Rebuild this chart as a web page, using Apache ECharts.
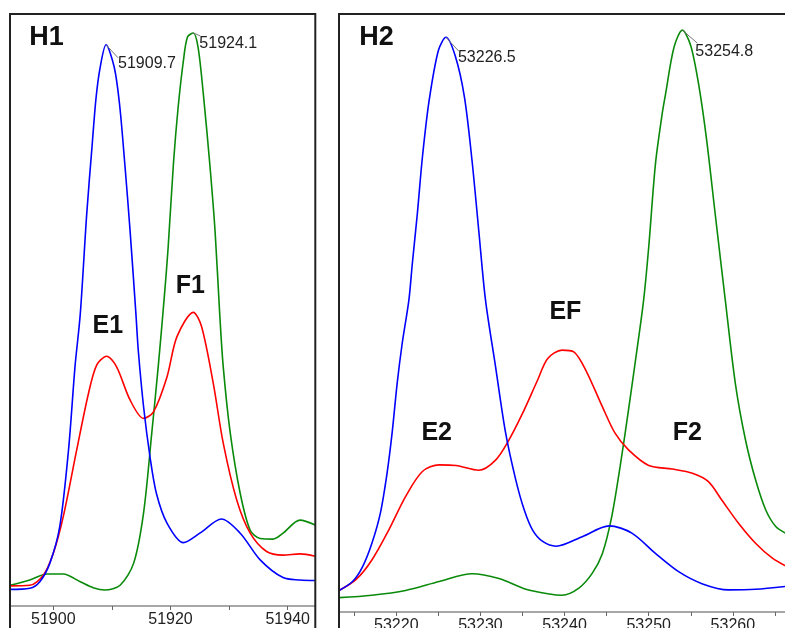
<!DOCTYPE html>
<html><head><meta charset="utf-8">
<script src="https://cdn.jsdelivr.net/npm/echarts@6/dist/echarts.min.js"></script>
<style>html,body{margin:0;padding:0;background:#fff}#c{width:785px;height:628px}</style>
</head><body><div id="c"></div>
<script>
// ---- Panel H1 (x: mass, y: relative intensity %) ----
const h1Blue = [[51892.6,2.8],[51896.0,3.0],[51897.7,4.1],[51899.4,7.2],[51901.1,13.4],[51902.6,26.4],[51903.7,40.4],[51904.6,49.3],[51905.7,66.2],[51906.6,77.5],[51907.3,85.9],[51908.0,91.0],[51909.0,94.8],[51910.4,91.0],[51911.3,84.8],[51912.2,74.7],[51913.1,63.4],[51914.1,49.3],[51914.5,43.2],[51915.4,33.7],[51916.5,25.2],[51917.6,19.0],[51919.4,14.0],[51922.2,10.7],[51925.0,12.3],[51928.7,14.7],[51931.9,12.3],[51935.3,7.8],[51939.2,4.8],[51942.1,4.4],[51944.7,4.3]];
const h1Red = [[51892.6,3.4],[51896.0,3.5],[51898.3,5.2],[51900.0,8.9],[51901.7,15.1],[51904.0,26.4],[51906.0,35.9],[51907.4,40.7],[51909.1,42.2],[51910.8,40.4],[51913.1,34.8],[51915.4,31.7],[51917.1,32.8],[51919.4,38.7],[51921.1,45.5],[51923.9,49.6],[51925.3,47.2],[51927.3,37.6],[51929.0,27.5],[51931.3,17.9],[51933.6,12.3],[51936.4,9.2],[51939.2,8.6],[51942.1,8.8],[51944.7,8.4]];
const h1Green = [[51892.6,3.5],[51896.0,4.4],[51898.9,5.4],[51901.7,5.4],[51904.6,4.1],[51906.8,3.1],[51908.8,2.7],[51911.4,3.5],[51913.7,7.2],[51915.4,15.7],[51916.8,29.2],[51917.9,40.4],[51918.9,51.7],[51919.6,60.6],[51920.5,74.7],[51921.3,84.2],[51922.2,92.1],[51922.9,96.1],[51923.9,96.8],[51924.7,94.4],[51925.6,86.5],[51926.7,74.7],[51927.6,63.4],[51928.4,49.3],[51929.0,40.4],[51930.2,29.2],[51931.9,19.0],[51933.6,12.8],[51935.3,11.4],[51937.5,11.3],[51939.2,12.3],[51942.1,14.5],[51944.7,13.7]];
const h1PeakLabels = ['51909.7', '51924.1'];
const h1Annotations = [['E1', 51909.3, 47.3], ['F1', 51923.4, 54.1]];

// ---- Panel H2 ----
const h2Blue = [[53213.2,3.6],[53214.8,5.1],[53216.0,7.6],[53217.1,11.5],[53218.1,16.5],[53218.9,23.2],[53219.5,29.9],[53220.1,38.2],[53220.7,44.9],[53221.5,52.2],[53221.9,58.2],[53222.5,66.6],[53223.1,76.0],[53223.9,85.5],[53225.0,93.9],[53225.9,96.1],[53227.0,93.0],[53228.1,86.1],[53229.0,75.5],[53229.8,63.8],[53230.6,52.2],[53231.8,41.0],[53233.0,29.9],[53234.2,22.1],[53235.2,17.1],[53236.2,13.7],[53237.4,11.8],[53239.0,11.0],[53242.1,12.6],[53245.3,14.4],[53248.0,13.2],[53250.8,9.8],[53253.6,6.7],[53256.4,4.7],[53259.5,3.7],[53262.7,3.8],[53266.4,4.3]];
const h2Red = [[53213.2,3.6],[53215.2,5.4],[53217.1,8.7],[53219.1,13.7],[53221.1,19.3],[53223.1,23.5],[53225.1,24.6],[53227.1,24.5],[53229.8,23.7],[53231.8,25.4],[53233.4,28.8],[53235.0,33.2],[53236.8,38.8],[53238.0,42.4],[53239.7,43.8],[53241.1,43.5],[53242.5,40.5],[53244.5,34.3],[53246.0,29.9],[53247.6,27.1],[53250.0,24.5],[53252.8,23.9],[53255.2,23.2],[53257.1,21.8],[53258.7,18.7],[53260.7,14.8],[53262.7,11.5],[53264.7,9.0],[53266.4,7.6]];
const h2Green = [[53213.2,2.4],[53217.1,2.8],[53221.1,3.6],[53225.1,5.1],[53229.0,6.4],[53232.2,5.6],[53235.4,3.8],[53238.2,3.0],[53239.7,2.8],[53241.7,4.0],[53243.3,6.5],[53244.5,9.8],[53245.6,15.9],[53246.6,24.3],[53247.6,33.8],[53248.6,43.8],[53249.4,52.2],[53250.0,61.0],[53250.8,74.9],[53251.6,83.3],[53252.0,86.6],[53253.0,94.4],[53254.0,97.3],[53255.0,94.7],[53256.0,87.7],[53256.9,78.8],[53257.9,66.6],[53259.1,52.2],[53260.3,38.2],[53261.5,28.8],[53262.7,22.1],[53263.9,17.1],[53265.1,14.3],[53266.4,13.1]];
const h2PeakLabels = ['53226.5', '53254.8'];
const h2Annotations = [['E2', 53224.8, 29.9], ['EF', 53240.1, 50.1], ['F2', 53254.6, 29.9]];

const panelTitles = ['H1', 'H2'];

const FONT = '"Liberation Sans", Arial, sans-serif';
const BLUE = '#0000ff', RED = '#ff0000', GREEN = '#0a8a0a';

function xAxisCfg(gi, min, max, split, iv) {
  return {
    gridIndex: gi, type: 'value', min: min, max: max, splitNumber: split,
    minInterval: iv, maxInterval: iv,
    axisLine: { show: true, onZero: false, lineStyle: { color: '#8a8a8a', width: 1.5 } },
    axisTick: { show: true, length: 4, lineStyle: { color: '#666', width: 1 } },
    minorTick: { show: true, splitNumber: 2, length: 4, lineStyle: { color: '#666', width: 1 } },
    axisLabel: { showMinLabel: false, showMaxLabel: false, fontSize: 16, color: '#222', margin: 6, fontFamily: FONT,
      formatter: v => String(Math.round(v)) },
    splitLine: { show: false }
  };
}
function lineSeries(data, color, xi) {
  return {
    type: 'line', data: data, xAxisIndex: xi, yAxisIndex: xi,
    showSymbol: false, symbol: 'none', smooth: 0.3, clip: true, silent: true,
    lineStyle: { color: color, width: 1.6 }
  };
}

const chart = echarts.init(document.getElementById('c'), null, { renderer: 'canvas' });
chart.setOption({
  animation: false,
  backgroundColor: '#fff',
  grid: [
    { left: 10, right: 469.7, top: 14, bottom: 22, show: false, containLabel: false, outerBoundsMode: 'none' },
    { left: 339, right: 0, top: 14, bottom: 16, show: false, containLabel: false, outerBoundsMode: 'none' }
  ],
  xAxis: [
    xAxisCfg(0, 51892.61, 51944.71, 3, 20),
    xAxisCfg(1, 53213.19, 53266.2, 5, 10)
  ],
  yAxis: [
    { gridIndex: 0, type: 'value', min: 0, max: 100, show: false },
    { gridIndex: 1, type: 'value', min: 0, max: 100, show: false }
  ],
  series: [
    lineSeries(h1Green, GREEN, 0),
    lineSeries(h1Red, RED, 0),
    lineSeries(h1Blue, BLUE, 0),
    lineSeries(h2Green, GREEN, 1),
    lineSeries(h2Red, RED, 1),
    lineSeries(h2Blue, BLUE, 1)
  ]
});

function apex(arr) {
  let best = arr[0];
  arr.forEach(p => { if (p[1] > best[1]) best = p; });
  return best;
}

const g = [];
// panel frames
g.push({ type: 'rect', shape: { x: 10, y: 14, width: 305.3, height: 700 }, style: { fill: 'none', stroke: '#222', lineWidth: 2 }, z: 10 });
g.push({ type: 'rect', shape: { x: 339, y: 14, width: 500, height: 700 }, style: { fill: 'none', stroke: '#222', lineWidth: 2 }, z: 10 });
// panel titles
g.push({ type: 'text', x: 46.5, y: 38, style: { text: panelTitles[0], font: 'bold 27px ' + FONT, fill: '#111', align: 'center', verticalAlign: 'middle' }, z: 10 });
g.push({ type: 'text', x: 376.5, y: 38, style: { text: panelTitles[1], font: 'bold 27px ' + FONT, fill: '#111', align: 'center', verticalAlign: 'middle' }, z: 10 });

// peak labels with leader lines
const peaks = [
  { gi: 0, p: apex(h1Blue), t: h1PeakLabels[0], lx: 12, ly: 13, tx: 12, ty: 11 },
  { gi: 0, p: apex(h1Green), t: h1PeakLabels[1], lx: 7, ly: 3, tx: 6, ty: 3 },
  { gi: 1, p: apex(h2Blue), t: h2PeakLabels[0], lx: 13, ly: 14, tx: 12, ty: 12 },
  { gi: 1, p: apex(h2Green), t: h2PeakLabels[1], lx: 15, ly: 13, tx: 13, ty: 13 }
];
peaks.forEach(k => {
  const px = chart.convertToPixel({ gridIndex: k.gi }, k.p);
  g.push({ type: 'line', shape: { x1: px[0], y1: px[1], x2: px[0] + k.lx, y2: px[1] + k.ly }, style: { stroke: '#777', lineWidth: 1 }, z: 10 });
  g.push({ type: 'text', x: px[0] + k.tx, y: px[1] + k.ty, style: { text: k.t, font: '16px ' + FONT, fill: '#222', align: 'left', verticalAlign: 'top' }, z: 10 });
});

// peak annotations
[[0, h1Annotations], [1, h2Annotations]].forEach(([gi, list]) => {
  list.forEach(a => {
    const px = chart.convertToPixel({ gridIndex: gi }, [a[1], a[2]]);
    g.push({ type: 'text', x: px[0], y: px[1], style: { text: a[0], font: 'bold 25px ' + FONT, fill: '#111', align: 'center', verticalAlign: 'middle' }, z: 10 });
  });
});

chart.setOption({ graphic: g });
</script>
</body></html>
